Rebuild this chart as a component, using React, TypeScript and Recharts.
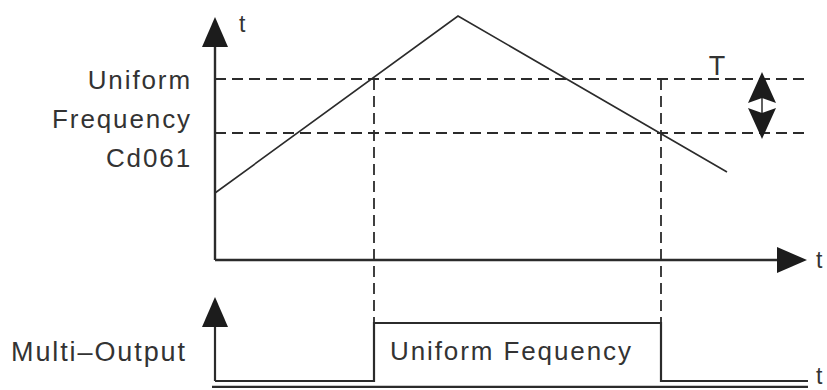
import React from 'react'
import { ComposedChart, Line, Scatter, XAxis, YAxis } from 'recharts'

// running frequency: accelerates, peaks, then decelerates (time, frequency)
const rampTime = [0, 24.3, 51.2]
const rampFreq = [6.7, 24.4, 8.8]

// uniform frequency band, Cd061 with tolerance T
const bandUpper = 18.1
const bandLower = 12.7
const bandEnd = 59.2

// moments where the multi-output switches on / off
const switchOn = 15.9
const switchOff = 44.6

// multi-output signal (0 = off, 1 = on)
const outTime = [0, switchOn, switchOn, switchOff, switchOff, 59.3]
const outLevel = [0, 0, 1, 1, 0, 0]

const labelLines = ['Uniform', 'Frequency', 'Cd061']
const labelFreq = [17.1, 13.2, 9.3]

const INK = '#2b2b2b'
const TEXT = '#333333'
const FONT = '"Liberation Sans", Arial, sans-serif'

const T_DOMAIN: [number, number] = [-21.5, 61.2]
const F_DOMAIN: [number, number] = [-13, 26]
const O_DOMAIN: [number, number] = [-9 / 58, 381 / 58]
const DROP_TO = -6.3 // freq-scale height of the output's high level

const seg = (pts: [number, number][], key = 'f') => pts.map(([t, v]) => ({ t, [key]: v }))

const ramp = rampTime.map((t, i) => ({ t, f: rampFreq[i] }))
const output = outTime.map((t, i) => ({ t, o: outLevel[i] }))

const arrowsFreq = [
  { t: 0, f: 24.3, dir: 'up', kind: 'axis' },
  { t: 59.2, f: 0, dir: 'right', kind: 'axis' },
  { t: 54.7, f: 18.8, dir: 'up', kind: 'tol' },
  { t: 54.7, f: 12.1, dir: 'down', kind: 'tol' },
]
const arrowsOut = [{ t: 0, o: 1.448, dir: 'up', kind: 'axis' }]

const texts = [
  { t: 2.4, f: 22.8, text: 't', anchor: 'start', size: 23 },
  { t: 60.1, f: -0.8, text: 't', anchor: 'start', size: 23 },
  { t: 60.1, f: -12.4, text: 't', anchor: 'start', size: 23 },
  { t: 50.3, f: 18.5, text: 'T', anchor: 'middle', size: 27 },
  ...labelLines.map((text, i) => ({ t: -2.3, f: labelFreq[i], text, anchor: 'end', size: 26 })),
  { t: -20.4, f: -10.1, text: 'Multi\u2013Output', anchor: 'start', size: 27 },
  { t: 17.5, f: -10.0, text: 'Uniform Fequency', anchor: 'start', size: 26 },
]

const Arrow = (props: any) => {
  const { cx, cy, payload } = props
  const len = payload.kind === 'tol' ? 31 : 30
  const h = payload.kind === 'tol' ? 14 : 13
  const n = payload.kind === 'tol' ? 5 : 0
  let pts = ''
  if (payload.dir === 'up') pts = `${cx},${cy} ${cx - h},${cy + len} ${cx},${cy + len - n} ${cx + h},${cy + len}`
  if (payload.dir === 'down') pts = `${cx},${cy} ${cx - h},${cy - len} ${cx},${cy - len + n} ${cx + h},${cy - len}`
  if (payload.dir === 'right') pts = `${cx},${cy} ${cx - len},${cy - h} ${cx - len + n},${cy} ${cx - len},${cy + h}`
  return <polygon points={pts} fill="#1c1c1c" />
}

const Txt = (props: any) => {
  const { cx, cy, payload } = props
  return (
    <text x={cx} y={cy} textAnchor={payload.anchor} fontSize={payload.size} fontFamily={FONT}
      fill={TEXT} letterSpacing={payload.size > 23 ? 1.9 : 0}>
      {payload.text}
    </text>
  )
}

const solid = { stroke: INK, dot: false, activeDot: false, isAnimationActive: false, type: 'linear' as const }
const dashed = { ...solid, strokeWidth: 1.8, strokeDasharray: '11 6' }

export default function App() {
  return (
    <div style={{ position: 'absolute', left: 0, top: 0, background: '#fff' }}>
      <ComposedChart width={827} height={390} margin={{ top: 0, right: 0, bottom: 0, left: 0 }}>
        <XAxis type="number" dataKey="t" domain={T_DOMAIN} allowDataOverflow hide />
        <YAxis yAxisId="freq" type="number" dataKey="f" domain={F_DOMAIN} allowDataOverflow hide />
        <YAxis yAxisId="out" type="number" dataKey="o" domain={O_DOMAIN} allowDataOverflow hide />

        {/* band + switching guides */}
        <Line yAxisId="freq" data={seg([[0, bandUpper], [bandEnd, bandUpper]])} dataKey="f" {...dashed} />
        <Line yAxisId="freq" data={seg([[0, bandLower], [bandEnd, bandLower]])} dataKey="f" {...dashed} />
        <Line yAxisId="freq" data={seg([[switchOn, bandUpper], [switchOn, DROP_TO]])} dataKey="f" {...dashed} />
        <Line yAxisId="freq" data={seg([[switchOff, bandUpper], [switchOff, DROP_TO]])} dataKey="f" {...dashed} />

        {/* frequency ramp */}
        <Line yAxisId="freq" data={ramp} dataKey="f" {...solid} strokeWidth={1.6} />

        {/* upper axes */}
        <Line yAxisId="freq" data={seg([[0, 0], [0, 22]])} dataKey="f" {...solid} strokeWidth={2.4} />
        <Line yAxisId="freq" data={seg([[0, 0], [57, 0]])} dataKey="f" {...solid} strokeWidth={2.6} />

        {/* tolerance arrow shaft */}
        <Line yAxisId="freq" data={seg([[54.7, 17], [54.7, 14]])} dataKey="f" {...solid} strokeWidth={1.5} />

        {/* multi-output */}
        <Line yAxisId="out" data={output} dataKey="o" {...solid} strokeWidth={2.2} />
        <Line yAxisId="out" data={seg([[0, 0], [0, 1]], 'o')} dataKey="o" {...solid} strokeWidth={2.2} />
        <Line yAxisId="out" data={seg([[-0.3, -0.103], [59.3, -0.103]], 'o')} dataKey="o" {...solid} strokeWidth={2.2} />

        <Scatter yAxisId="freq" data={arrowsFreq} dataKey="f" shape={Arrow} isAnimationActive={false} />
        <Scatter yAxisId="out" data={arrowsOut} dataKey="o" shape={Arrow} isAnimationActive={false} />
        <Scatter yAxisId="freq" data={texts} dataKey="f" shape={Txt} isAnimationActive={false} />
      </ComposedChart>
    </div>
  )
}
